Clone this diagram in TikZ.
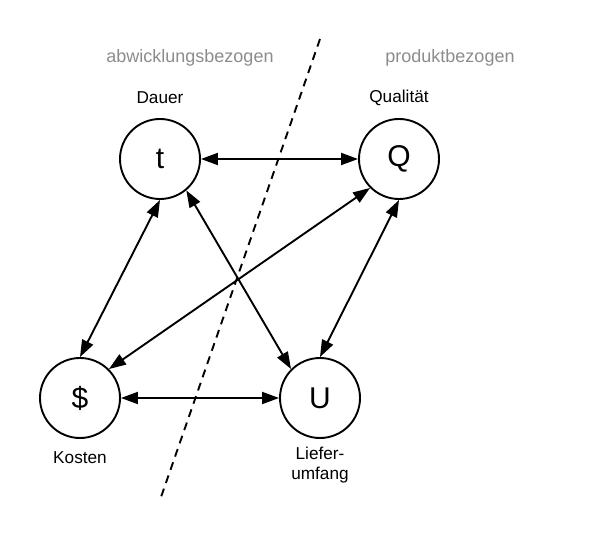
\documentclass[tikz,border=0pt]{standalone}
\usepackage{fontspec}
\setmainfont{Liberation Sans}
\usetikzlibrary{arrows.meta}
\begin{document}
\begin{tikzpicture}[x=1pt,y=-1pt,
  circ/.style={circle,draw,line width=1.9pt,minimum size=80pt,inner sep=0pt,font=\fontsize{30}{32}\selectfont},
  lbl/.style={font=\fontsize{17.2}{20}\selectfont,align=center},
  grp/.style={font=\fontsize{18}{20}\selectfont,text=black!45},
  biarrow/.style={line width=1.9pt,{Triangle[length=17pt,width=12pt]}-{Triangle[length=17pt,width=12pt]}},
  divider/.style={line width=1.9pt,dash pattern=on 8pt off 6pt}]
\useasboundingbox (0,0) rectangle (600,540);
\node[circ] (t) at (160,159) {t};
\node[circ] (q) at (399,159) {Q};
\node[circ] (d) at (80,398) {\$};
\node[circ] (u) at (320,398) {U};
\node[lbl] (lt) at (160,98) {Dauer};
\node[lbl] (lq) at (399,98) {Qualität};
\node[lbl] (ld) at (80,458) {Kosten};
\node[lbl,inner sep=0pt] (lu) at (320,465) {Liefer-\\[0pt]umfang};
\node[grp] (ga) at (190,58) {abwicklungsbezogen};
\node[grp] (gp) at (450,58) {produktbezogen};
\coordinate (s1) at (320,39);
\coordinate (s2) at (160,500);
\draw[divider] (s1) -- (s2);
\draw[biarrow] (t.east) -- (q.west);
\draw[biarrow] (d.east) -- (u.west);
\draw[biarrow] (t.south) -- (d.north);
\draw[biarrow] (q.south) -- (u.north);
\draw[biarrow] (t.-50) -- (u.135);
\draw[biarrow] (q.225) -- (d.45);
\end{tikzpicture}
\end{document}
